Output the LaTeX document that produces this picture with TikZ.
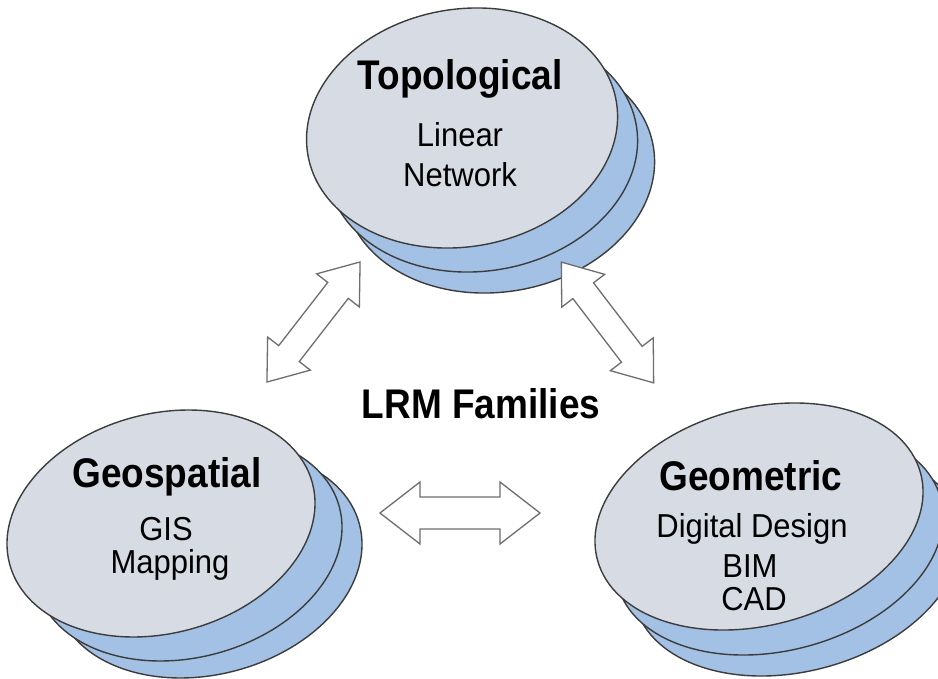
\documentclass[tikz,border=0pt]{standalone}
\usepackage{fontspec}
\usepackage{graphicx}
\setmainfont{Liberation Sans}
\usetikzlibrary{calc}
\definecolor{frontfill}{HTML}{D7DCE4}
\definecolor{backfill}{HTML}{A3C0E5}
\definecolor{edge}{HTML}{3C3C3C}
\definecolor{arrowedge}{HTML}{6E6E6E}
\tikzset{
  frontell/.style={draw=edge,line width=1.4pt,fill=frontfill},
  backell/.style={draw=edge,line width=1.4pt,fill=backfill},
  arrowbox/.style={draw=arrowedge,line width=1.3pt,fill=white,line join=miter},
  bigtxt/.style={font=\fontsize{37}{40}\selectfont\bfseries,anchor=base,inner sep=0pt},
  smalltxt/.style={font=\fontsize{31}{34}\selectfont,anchor=base,inner sep=0pt}
}
\newcommand\tallB[1]{\scalebox{1}[1.12]{#1}}
\newcommand\tallR[1]{\scalebox{1}[1.07]{#1}}
% #1 centre, #2 angle, #3 x radius, #4 y radius, #5 style
\newcommand\rotell[5]{\draw[#5,rotate around={#2:(#1)}] (#1) ellipse [x radius=#3,y radius=#4];}
\newcommand\dblarr[6]{%
  \begin{scope}[shift={(#1)},rotate=#2]
    \draw[arrowbox] (-#3,0) -- (-#3+#4,#5) -- (-#3+#4,#6) -- (#3-#4,#6) -- (#3-#4,#5) -- (#3,0)
      -- (#3-#4,-#5) -- (#3-#4,-#6) -- (-#3+#4,-#6) -- (-#3+#4,-#5) -- cycle;
  \end{scope}}
\begin{document}
\begin{tikzpicture}[x=1pt,y=-1pt]
\fill[white] (0,0) rectangle (938,679);
\useasboundingbox (0,0) rectangle (938,679);
% centres
\coordinate (topc) at (462,128);
\coordinate (topb1) at (482,152);
\coordinate (topb2) at (499,173);
\coordinate (leftc) at (161,523.5);
\coordinate (leftb1) at (188,547.5);
\coordinate (leftb2) at (208,564.5);
\coordinate (rightc) at (759,516.5);
\coordinate (rightb1) at (779,541.5);
\coordinate (rightb2) at (797,562.5);
% top stack
\rotell{topb2}{10}{156.5}{118.7}{backell}
\rotell{topb1}{10}{156.5}{118.7}{backell}
\rotell{topc}{10}{156.5}{118.7}{frontell}
% left stack
\rotell{leftb2}{15}{156.7}{109.7}{backell}
\rotell{leftb1}{15}{156.7}{109.7}{backell}
\rotell{leftc}{15}{156.7}{109.7}{frontell}
% right stack
\rotell{rightb2}{15}{167.3}{108.6}{backell}
\rotell{rightb1}{15}{167.3}{108.6}{backell}
\rotell{rightc}{15}{167.3}{108.6}{frontell}
% texts
\node[bigtxt] (topo) at (460,90) {\tallB{Topological}};
\node[smalltxt] (lin) at (460,147) {\tallR{Linear}};
\node[smalltxt] (net) at (460,187) {\tallR{Network}};
\node[bigtxt] (geos) at (167,487) {\tallB{Geospatial}};
\node[smalltxt] (gis) at (166,540) {\tallR{GIS}};
\node[smalltxt] (map) at (170,573) {\tallR{Mapping}};
\node[bigtxt] (geom) at (751,490) {\tallB{Geometric}};
\node[smalltxt] (dd) at (752,537) {\tallR{Digital Design}};
\node[smalltxt] (bim) at (750,577) {\tallR{BIM}};
\node[smalltxt] (cad) at (754,610) {\tallR{CAD}};
\node[bigtxt] (lrm) at (481,418) {\tallB{LRM Families}};
% arrows
\coordinate (arrL) at (313.5,322);
\coordinate (arrR) at (607.5,322.5);
\coordinate (arrH) at (460,513);
\dblarr{arrL}{52.2}{76}{36}{27}{13}
\dblarr{arrR}{-52.6}{76}{36}{27}{13}
\dblarr{arrH}{0}{80}{40}{31}{16}
\end{tikzpicture}
\end{document}
